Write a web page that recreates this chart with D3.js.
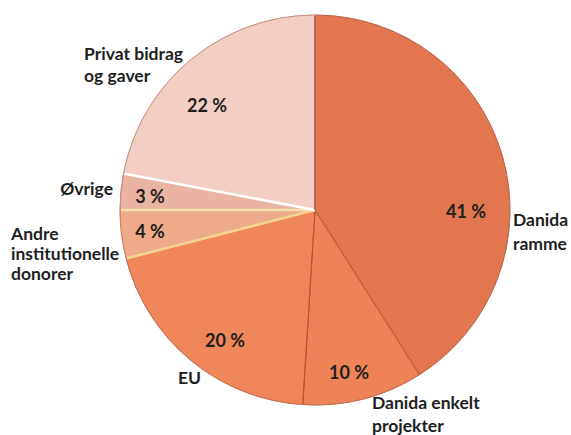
<!DOCTYPE html>
<html>
<head>
<meta charset="utf-8">
<script src="https://cdn.jsdelivr.net/npm/d3@7"></script>
<style>
  body { margin: 0; background: #fff; }
  text { font-family: Lato, "Open Sans", sans-serif; font-weight: bold; fill: #1e1e1e; }
</style>
</head>
<body>
<svg width="571" height="435"></svg>
<script>
// data
var categories = ["Danida ramme", "Danida enkelt projekter", "EU", "Andre institutionelle donorer", "Øvrige", "Privat bidrag og gaver"];
var shares = [41, 10, 20, 4, 3, 22];

// label text split over lines
var nameLines = [["Danida", "ramme"], ["Danida enkelt", "projekter"], ["EU"], ["Andre", "institutionelle", "donorer"], ["Øvrige"], ["Privat bidrag", "og gaver"]];

// layout (pixels)
var cx = 315, cy = 210, radius = 195;
var fills = ["#e2774f", "#ee8357", "#f0875a", "#efaa8a", "#eab3a4", "#f3cec5"];
var edges = ["#b9583a", "#c4623f", "#c96543", "#c98a6e", "#c9978b", "#d8b0a8"];
// separator after each slice (clockwise end)
var seps = [{c: "#c0603f", w: 1.2}, {c: "#b8503a", w: 1}, {c: "#f4d48f", w: 2.5}, {c: "#f7e2a6", w: 2.5}, {c: "#ffffff", w: 2.5}, {c: "#a8564a", w: 1.5}];
var pctPos = [[466, 218], [349, 379], [225, 347], [150, 238], [150, 203], [207, 112]];
var namePos = [{x: 513, y: 226, a: "start"}, {x: 372, y: 409, a: "start"}, {x: 178, y: 384, a: "start"},
               {x: 11, y: 240, a: "start"}, {x: 113, y: 195, a: "end"}, {x: 84, y: 60, a: "start"}];
var lineGap = [24, 23, 22, 20, 22, 22];

var svg = d3.select("svg"),
    g = svg.append("g").attr("transform", "translate(" + cx + "," + cy + ")");

var pie = d3.pie().sort(null).value(function(d) { return d; }),
    arcs = pie(shares),
    arc = d3.arc().innerRadius(0).outerRadius(radius);

g.selectAll("path.slice")
    .data(arcs)
  .enter().append("path")
    .attr("class", "slice")
    .attr("d", arc)
    .style("fill", function(d, i) { return fills[i]; })
    .style("stroke", function(d, i) { return edges[i]; })
    .style("stroke-width", 1);

// separator lines at slice boundaries
g.selectAll("line.sep")
    .data(arcs)
  .enter().append("line")
    .attr("class", "sep")
    .attr("x1", 0).attr("y1", 0)
    .attr("x2", function(d) { return (radius - 1) * Math.sin(d.endAngle); })
    .attr("y2", function(d) { return -(radius - 1) * Math.cos(d.endAngle); })
    .style("stroke", function(d, i) { return seps[i].c; })
    .style("stroke-width", function(d, i) { return seps[i].w; });

// outer rim
g.append("circle")
    .attr("r", radius)
    .style("fill", "none")
    .style("stroke", "#c07a66")
    .style("stroke-opacity", 0.6)
    .style("stroke-width", 1);

// percent labels
svg.selectAll("text.pct")
    .data(shares)
  .enter().append("text")
    .attr("class", "pct")
    .attr("x", function(d, i) { return pctPos[i][0]; })
    .attr("y", function(d, i) { return pctPos[i][1]; })
    .attr("text-anchor", "middle")
    .style("font-size", "18px")
    .text(function(d) { return d + " %"; });

// category labels
var names = svg.selectAll("text.name")
    .data(categories)
  .enter().append("text")
    .attr("class", "name")
    .attr("text-anchor", function(d, i) { return namePos[i].a; })
    .style("font-size", "17.5px");

names.each(function(d, i) {
    var t = d3.select(this);
    nameLines[i].forEach(function(s, k) {
        t.append("tspan")
            .attr("x", namePos[i].x)
            .attr("y", namePos[i].y + k * lineGap[i])
            .text(s);
    });
});
</script>
</body>
</html>
